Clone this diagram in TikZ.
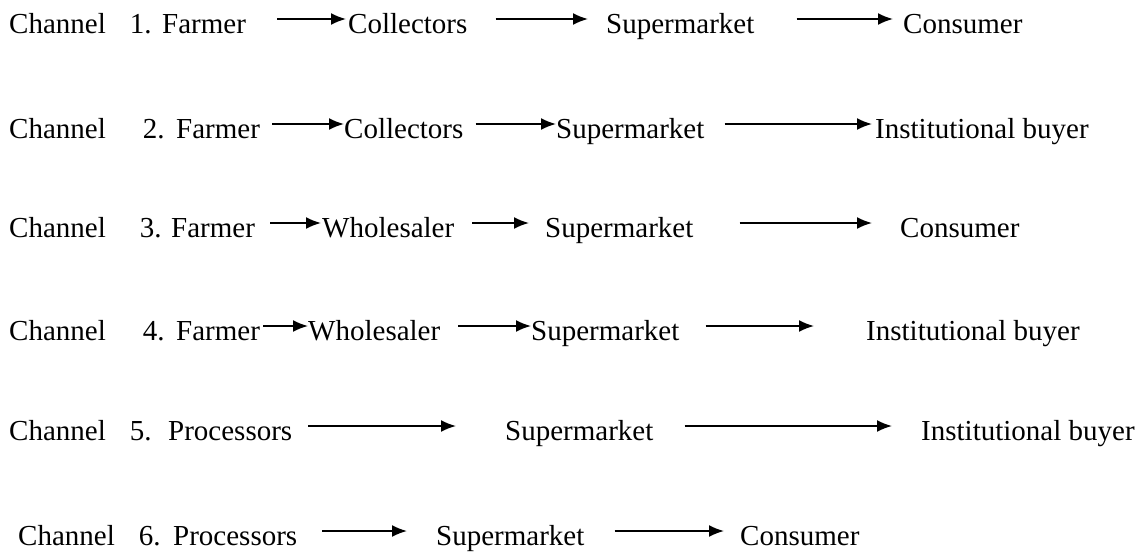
\documentclass[tikz,border=0pt]{standalone}
\usepackage{fontspec}
\setmainfont{Liberation Serif}
\usetikzlibrary{arrows.meta}
\tikzset{
  word/.style={anchor=base west,inner sep=0pt},
  flow/.style={-{Latex[length=15pt,width=12pt]},line width=1.8pt,draw=black}
}
\begin{document}
\begin{tikzpicture}[x=1pt,y=-1pt,font=\rmfamily\fontsize{29pt}{34pt}\selectfont]
  \useasboundingbox (0,0) rectangle (1147,552);
  % channel 1
  \node[word] (l1) at (9,33) {Channel\hspace{24pt}1.};
  \node[word] (a1) at (162,33) {Farmer};
  \node[word] (b1) at (348,33) {Collectors};
  \node[word] (s1) at (606,33) {Supermarket};
  \node[word] (e1) at (903,33) {Consumer};
  \draw[flow] ([xshift=31pt,yshift=14pt]a1.base east) -- ([xshift=-2pt,yshift=14pt]b1.base west);
  \draw[flow] ([xshift=28pt,yshift=14pt]b1.base east) -- ([xshift=-18pt,yshift=14pt]s1.base west);
  \draw[flow] ([xshift=42pt,yshift=14pt]s1.base east) -- ([xshift=-10pt,yshift=14pt]e1.base west);
  % channel 2
  \node[word] (l2) at (9,138) {Channel\hspace{37pt}2.};
  \node[word] (a2) at (176,138) {Farmer};
  \node[word] (b2) at (344,138) {Collectors};
  \node[word] (s2) at (556,138) {Supermarket};
  \node[word] (e2) at (875,138) {Institutional buyer};
  \draw[flow] ([xshift=12pt,yshift=14pt]a2.base east) -- ([yshift=14pt]b2.base west);
  \draw[flow] ([xshift=12pt,yshift=14pt]b2.base east) -- ([yshift=14pt]s2.base west);
  \draw[flow] ([xshift=20pt,yshift=14pt]s2.base east) -- ([xshift=-3pt,yshift=14pt]e2.base west);
  % channel 3
  \node[word] (l3) at (9,237) {Channel\hspace{34pt}3.};
  \node[word] (a3) at (171,237) {Farmer};
  \node[word] (b3) at (322,237) {Wholesaler};
  \node[word] (s3) at (545,237) {Supermarket};
  \node[word] (e3) at (900,237) {Consumer};
  \draw[flow] ([xshift=15pt,yshift=14pt]a3.base east) -- ([xshift=-1pt,yshift=14pt]b3.base west);
  \draw[flow] ([xshift=18pt,yshift=14pt]b3.base east) -- ([xshift=-16pt,yshift=14pt]s3.base west);
  \draw[flow] ([xshift=46pt,yshift=14pt]s3.base east) -- ([xshift=-28pt,yshift=14pt]e3.base west);
  % channel 4
  \node[word] (l4) at (9,340) {Channel\hspace{37pt}4.};
  \node[word] (a4) at (176,340) {Farmer};
  \node[word] (b4) at (308,340) {Wholesaler};
  \node[word] (s4) at (531,340) {Supermarket};
  \node[word] (e4) at (866,340) {Institutional buyer};
  \draw[flow] ([xshift=3pt,yshift=14pt]a4.base east) -- ([yshift=14pt]b4.base west);
  \draw[flow] ([xshift=18pt,yshift=14pt]b4.base east) -- ([yshift=14pt]s4.base west);
  \draw[flow] ([xshift=26pt,yshift=14pt]s4.base east) -- ([xshift=-52pt,yshift=14pt]e4.base west);
  % channel 5
  \node[word] (l5) at (9,440) {Channel\hspace{24pt}5.};
  \node[word] (a5) at (168,440) {Processors};
  \node[word] (s5) at (505,440) {Supermarket};
  \node[word] (e5) at (921,440) {Institutional buyer};
  \draw[flow] ([xshift=16pt,yshift=14pt]a5.base east) -- ([xshift=-49pt,yshift=14pt]s5.base west);
  \draw[flow] ([xshift=31pt,yshift=14pt]s5.base east) -- ([xshift=-29pt,yshift=14pt]e5.base west);
  % channel 6
  \node[word] (l6) at (18,545) {Channel\hspace{24pt}6.};
  \node[word] (a6) at (173,545) {Processors};
  \node[word] (s6) at (436,545) {Supermarket};
  \node[word] (e6) at (740,545) {Consumer};
  \draw[flow] ([xshift=25pt,yshift=14pt]a6.base east) -- ([xshift=-29pt,yshift=14pt]s6.base west);
  \draw[flow] ([xshift=30pt,yshift=14pt]s6.base east) -- ([xshift=-16pt,yshift=14pt]e6.base west);
\end{tikzpicture}
\end{document}
